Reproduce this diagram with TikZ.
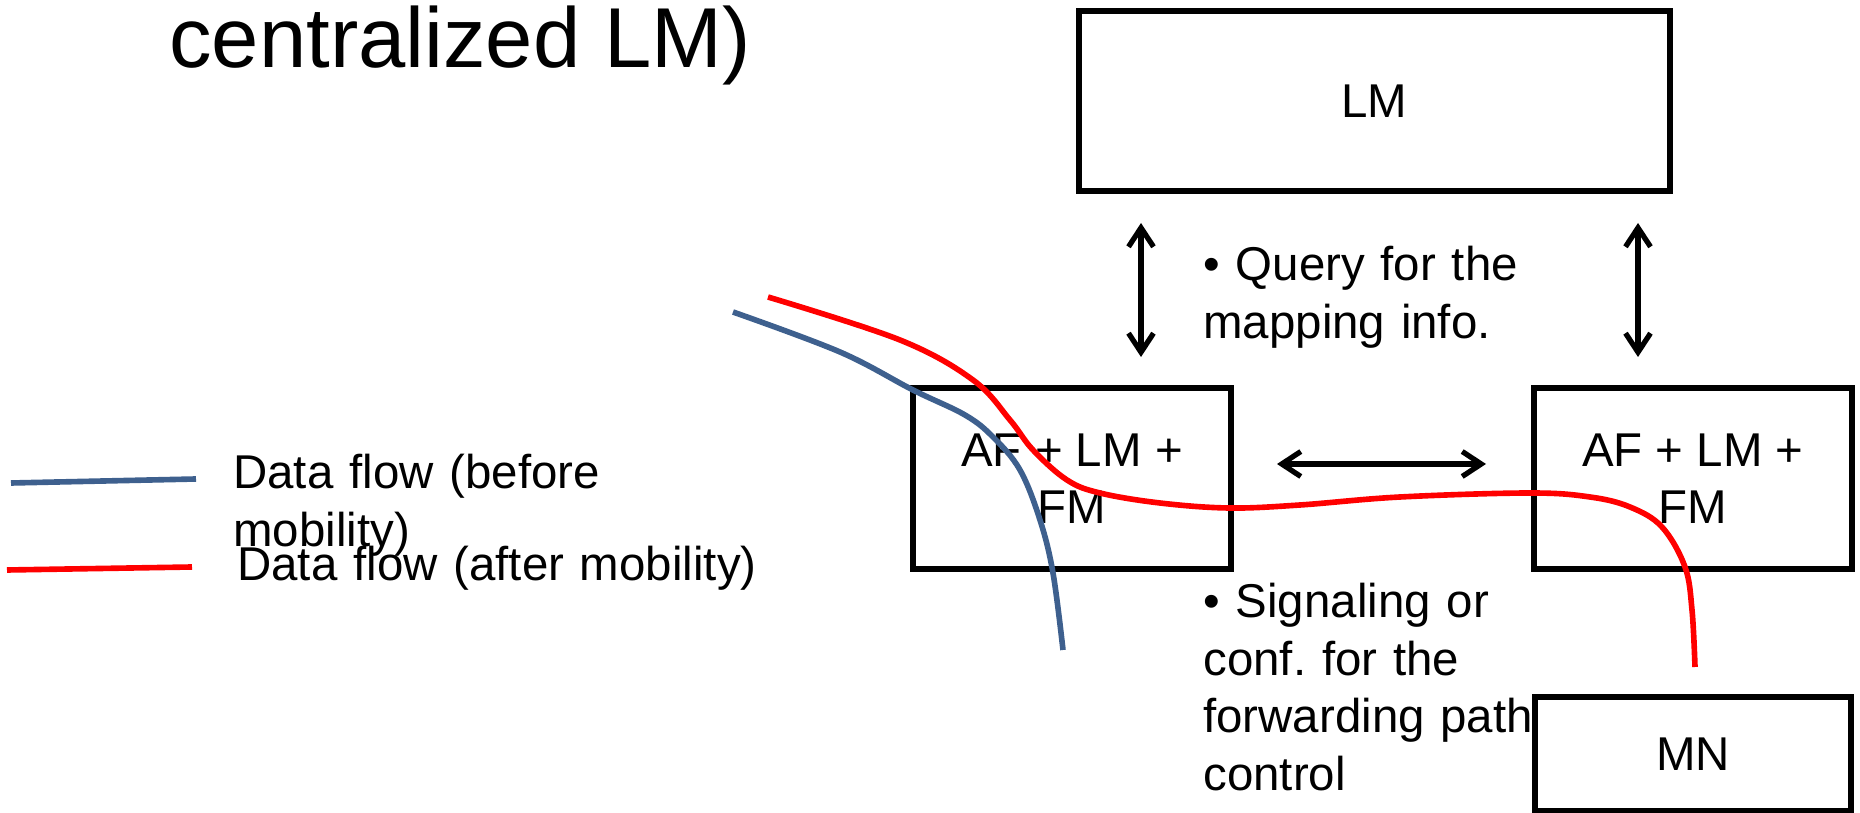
\documentclass[tikz,border=0pt]{standalone}
\usepackage{fontspec}
\setmainfont{Liberation Sans}
\usetikzlibrary{positioning,arrows.meta}
\definecolor{flowblue}{RGB}{62,96,142}
\definecolor{flowred}{RGB}{255,0,0}
\frenchspacing

\begin{document}
\begin{tikzpicture}[x=0.02cm, y=-0.02cm,
  every node/.style={font=\fontsize{27}{32.7}\selectfont},
  box/.style={draw, line width=3.2pt, inner sep=0pt, outer sep=0pt, align=center, minimum width=6.36cm, minimum height=3.62cm},
  txt/.style={anchor=base west, inner sep=0pt, align=left, text width=12cm},
  dbl/.style={line width=3pt, {Straight Barb[length=3.8mm, width=5mm]}-{Straight Barb[length=3.8mm, width=5mm]}},
  before/.style={draw=flowblue, line width=3.2pt},
  after/.style={draw=flowred, line width=3.2pt}]
  \useasboundingbox (0,0) rectangle (1860,813);

  % title (cut at the top)
  \node[anchor=base west, inner sep=0pt, font=\fontsize{48.4}{58}\selectfont] (title) at (169,68) {centralized LM)};

  % boxes
  \node[box, minimum width=11.82cm, minimum height=3.6cm] (lm) at (1374.5,101) {LM};
  \node[box] (af1) at (1072,478.5) {AF + LM +\\FM};
  \node[box, right=6.06cm of af1] (af2) {AF + LM +\\FM};
  \node[box, minimum width=6.32cm, minimum height=2.28cm, below=2.56cm of af2] (mn) {MN};

  % arrows
  \coordinate (q1a) at (1141,223);
  \coordinate (q1b) at (1141,357);
  \coordinate (q2a) at (1638,223);
  \coordinate (q2b) at (1638,357);
  \coordinate (sga) at (1277,464);
  \coordinate (sgb) at (1486,464);
  \draw[dbl] (q1a) -- (q1b);
  \draw[dbl] (q2a) -- (q2b);
  \draw[dbl] (sga) -- (sgb);

  % texts
  \node[txt] (query) at (1203,281) {• Query for the\\mapping info.};
  \node[txt] (signal) at (1203,618) {• Signaling or\\conf. for the\\forwarding path\\control};

  % legend
  \draw[before] (11,483) -- (196,479);
  \draw[after] (7,570) -- (192,567);
  \node[txt] (lgbefore) at (233,489) {Data flow (before\\mobility)};
  \node[txt] (lgafter) at (237,581) {Data flow (after mobility)};

  % data flows
  \draw[before] plot[smooth, tension=0.6] coordinates {(733,312) (840,352) (913,390) (965,415) (993,437) (1020,470) (1040,520) (1053,573) (1063,650)};
  \draw[after] plot[smooth, tension=0.6] coordinates {(768,297) (900,340) (973,380) (1010,420) (1033,450) (1067,480) (1100,493) (1160,503) (1229,508) (1300,505) (1400,497) (1530,493) (1590,497) (1630,507) (1662,527) (1685,567) (1692,610) (1695,667)};
\end{tikzpicture}
\end{document}
